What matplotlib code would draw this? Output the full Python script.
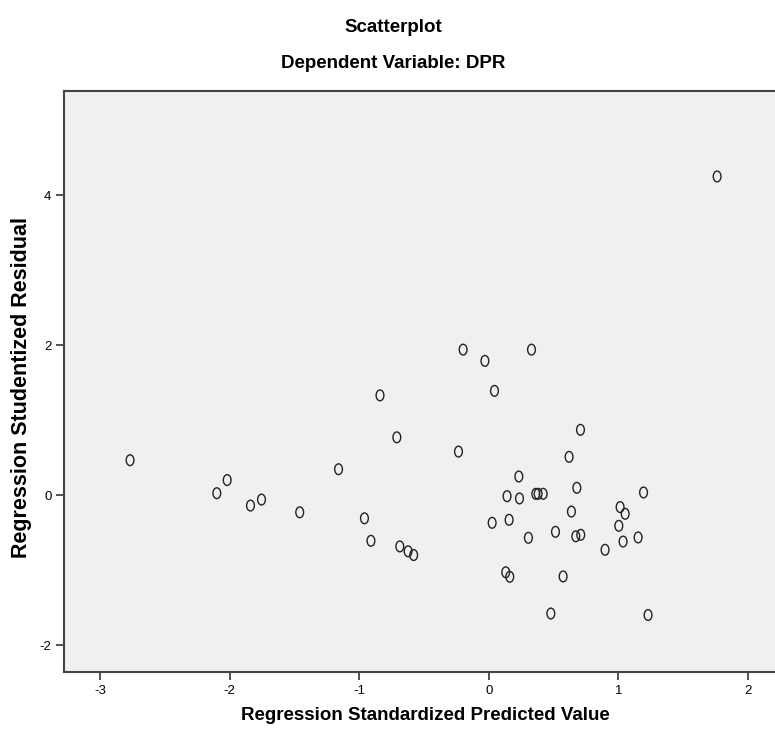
import matplotlib
matplotlib.use("Agg")
import matplotlib.pyplot as plt
from matplotlib.path import Path
from matplotlib.transforms import Affine2D

# Regression Standardized Predicted Value
pred = [-2.77, -2.02, -2.10, -1.755, -1.84, -1.46, -1.16, -0.96, -0.91,
        -0.687, -0.623, -0.58, -0.84, -0.71, -0.234,
        -0.198, -0.03, 0.33, 0.044, 0.708, 0.62, 0.232, 0.141, 0.237,
        0.363, 0.381, 0.42, 0.68, 1.195, 1.014, 1.053, 0.638, 0.157,
        0.026, 1.004, 0.515, 0.672, 0.71, 0.306, 1.153, 1.037, 0.898,
        0.131, 0.162, 0.574, 0.479, 1.23, 1.763]
# Regression Studentized Residual
resid = [0.465, 0.20, 0.025, -0.06, -0.14, -0.23, 0.345, -0.31, -0.61,
         -0.685, -0.75, -0.80, 1.33, 0.77, 0.58,
         1.94, 1.79, 1.94, 1.39, 0.87, 0.51, 0.248, -0.015, -0.045,
         0.017, 0.017, 0.017, 0.097, 0.035, -0.16, -0.25, -0.22, -0.33,
         -0.37, -0.41, -0.49, -0.55, -0.53, -0.57, -0.565, -0.62, -0.73,
         -1.03, -1.09, -1.085, -1.58, -1.60, 4.25]

sans = ["Liberation Sans", "DejaVu Sans"]

# circles in the source look a bit taller than wide
ell = Path.unit_circle().transformed(Affine2D().scale(0.72, 1.0))

fig = plt.figure(figsize=(7.75, 7.4), dpi=100)
ax = fig.add_axes([64 / 775, 1 - 672 / 740, 1 - 64 / 775, (672 - 91) / 740])
ax.set_facecolor("#f0f0f0")

ax.scatter(pred, resid, marker=ell, s=60, facecolors="none",
           edgecolors="#222222", linewidths=1.0, zorder=3)

ax.set_xlim(-3.28, 2.21)
ax.set_ylim(-2.36, 5.39)
ax.set_xticks([-3, -2, -1, 0, 1, 2])
ax.set_yticks([-2, 0, 2, 4])
ax.set_xticklabels(["-3", "-2", "-1", "0", "1", "2"], family=sans, fontsize=9.5)
ax.set_yticklabels(["-2", "0", "2", "4"], family=sans, fontsize=9.5)
ax.tick_params(direction="out", length=6, width=1.2, color="#333333", pad=3)

for side in ["left", "bottom", "top"]:
    ax.spines[side].set_color("#444444")
    ax.spines[side].set_linewidth(1.5)
ax.spines["right"].set_visible(False)

fig.text(425 / 775, 1 - 716 / 740, "Regression Standardized Predicted Value",
         family=sans, fontsize=13.5, fontweight="bold", ha="center", va="center")
fig.text(22 / 775, 1 - 387 / 740, "Regression Studentized Residual",
         family=sans, fontsize=15.5, fontweight="bold", ha="center", va="center",
         rotation=90)

fig.text(393 / 775, 1 - 27 / 740, "Scatterplot", family=sans, fontsize=13.5,
         fontweight="bold", ha="center", va="center")
fig.text(393 / 775, 1 - 63 / 740, "Dependent Variable: DPR", family=sans,
         fontsize=13.5, fontweight="bold", ha="center", va="center")

fig.savefig("out.png", dpi=100)
